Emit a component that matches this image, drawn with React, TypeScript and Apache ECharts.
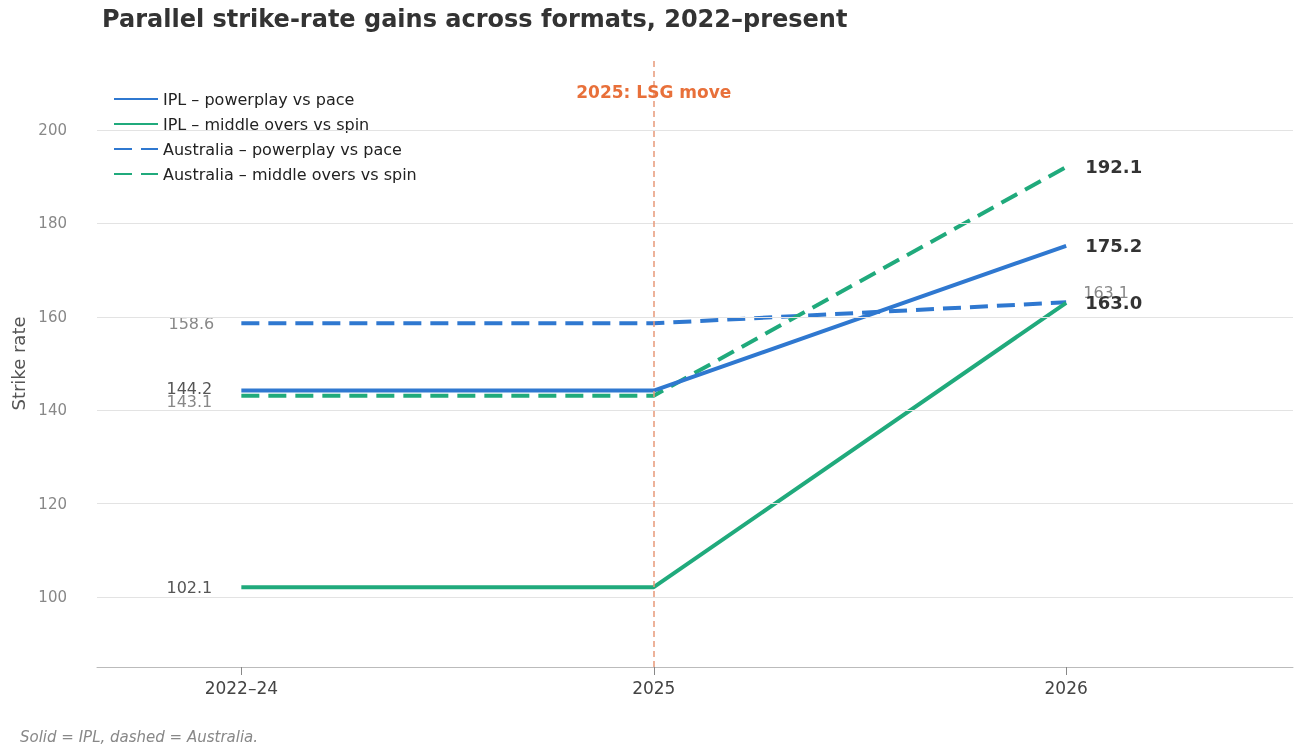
import React, { useEffect, useRef } from 'react';
import * as echarts from 'echarts';

const periods = ['2022–24', '2025', '2026'];
const iplPace = [144.2, 144.2, 175.2];
const iplSpin = [102.1, 102.1, 163.0];
const ausPace = [158.6, 158.6, 163.1];
const ausSpin = [143.1, 143.1, 192.1];
const yTicks = [100, 120, 140, 160, 180, 200];

const BLUE = '#2f78d0';
const GREEN = '#20aa7c';
const FONT = 'DejaVu Sans';

const mk = (vals: number[]) => vals.map((v, i) => [i, v]);

const App: React.FC = () => {
  const ref = useRef<HTMLDivElement>(null);

  useEffect(() => {
    if (!ref.current) return;
    const chart = echarts.init(ref.current, undefined, { renderer: 'svg' });

    const endLabel = (color: string, bold: boolean, offset: number[] = [14, 0]) => ({
      show: true,
      position: 'right',
      offset,
      fontFamily: FONT,
      fontSize: bold ? 18 : 16,
      fontWeight: bold ? 'bold' : 'normal',
      color,
      formatter: (p: any) => p.value[1].toFixed(1),
    });
    const startLabel = (color: string, offset: number[] = [-20, 0]) => ({
      show: true,
      position: 'left',
      offset,
      fontFamily: FONT,
      fontSize: 16,
      color,
      formatter: (p: any) => p.value[1].toFixed(1),
    });

    const line = (name: string, vals: number[], color: string, dashed: boolean, first: any, last: any) => ({
      name,
      type: 'line',
      symbol: 'circle',
      symbolSize: 0.1,
      lineStyle: { color, width: 4, type: dashed ? [18, 9] : 'solid' },
      itemStyle: { color },
      data: mk(vals).map((d, i) => ({
        value: d,
        label: i === 0 ? first : i === 2 ? last : { show: false },
      })),
    });

    chart.setOption({
      animation: false,
      title: [
        {
          text: 'Parallel strike-rate gains across formats, 2022–present',
          left: 97,
          top: 2,
          textStyle: { fontFamily: FONT, fontSize: 24, fontWeight: 'bold', color: '#333' },
        },
        {
          text: 'Solid = IPL, dashed = Australia.',
          left: 15,
          top: 724,
          textStyle: { fontFamily: FONT, fontSize: 15, fontStyle: 'italic', fontWeight: 'normal', color: '#888' },
        },
      ],
      legend: {
        orient: 'vertical',
        left: 108,
        top: 86,
        itemWidth: 44,
        itemHeight: 12,
        itemGap: 9,
        itemStyle: { opacity: 0 },
        textStyle: { fontFamily: FONT, fontSize: 16, color: '#222' },
        data: ['IPL – powerplay vs pace', 'IPL – middle overs vs spin', 'Australia – powerplay vs pace', 'Australia – middle overs vs spin'],
      },
      grid: { left: 97, right: 3, top: 60, bottom: 87 },
      xAxis: {
        type: 'value',
        min: -0.35,
        max: 2.55,
        splitLine: { show: false },
        axisLine: { show: true, lineStyle: { color: '#bbb' } },
        axisTick: { show: true, customValues: [0, 1, 2], length: 8, lineStyle: { color: '#888' } },
        axisLabel: {
          customValues: [0, 1, 2],
          formatter: (v: number) => periods[Math.round(v)],
          fontFamily: FONT,
          fontSize: 17,
          color: '#444',
          margin: 12,
        },
      },
      yAxis: {
        type: 'value',
        min: 85,
        max: 215,
        name: 'Strike rate',
        nameLocation: 'middle',
        nameGap: 60,
        nameTextStyle: { fontFamily: FONT, fontSize: 18, color: '#555' },
        splitLine: { show: false },
        axisLine: { show: false },
        axisTick: { show: false },
        axisLabel: { customValues: yTicks, fontFamily: FONT, fontSize: 15, color: '#888', margin: 30 },
      },
      series: [
        {
          type: 'line',
          data: [],
          silent: true,
          markLine: {
            silent: true,
            symbol: 'none',
            label: { show: false },
            lineStyle: { color: '#e3e3e3', width: 1, type: 'solid' },
            data: yTicks.map((y) => ({ yAxis: y })),
          },
        },
        {
          type: 'line',
          data: [],
          silent: true,
          markLine: {
            silent: true,
            symbol: 'none',
            lineStyle: { color: '#e8997a', width: 1.5, type: [6, 4] },
            label: {
              show: true,
              position: 'end',
              formatter: '2025: LSG move',
              distance: -40,
              rotate: 0,
              fontFamily: FONT,
              fontSize: 17,
              fontWeight: 'bold',
              color: '#e8703a',
            },
            data: [{ xAxis: 1 }],
          },
        },
        line('Australia – powerplay vs pace', ausPace, BLUE, true, startLabel('#888', [-22, 0]), endLabel('#888', false, [12, -10])),
        line('Australia – middle overs vs spin', ausSpin, GREEN, true, startLabel('#888', [-24, 6]), endLabel('#333', true)),
        line('IPL – powerplay vs pace', iplPace, BLUE, false, startLabel('#555', [-24, -2]), endLabel('#333', true)),
        line('IPL – middle overs vs spin', iplSpin, GREEN, false, startLabel('#555', [-24, 0]), endLabel('#333', true)),
      ],
    });

    return () => chart.dispose();
  }, []);

  return <div ref={ref} style={{ position: 'fixed', left: 0, top: 0, width: 1296, height: 754 }} />;
};

export default App;
